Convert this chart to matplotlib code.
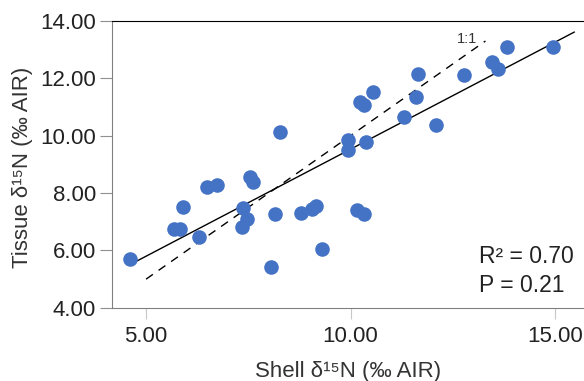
import matplotlib
matplotlib.use("Agg")
import matplotlib.pyplot as plt
import numpy as np

plt.rcParams['font.family'] = ['Liberation Sans', 'DejaVu Sans']

# Shell vs tissue d15N values
shell = [4.61, 5.69, 5.83, 5.91, 6.30, 6.50, 6.74, 7.55, 7.62, 8.28,
         7.38, 7.48, 7.35, 8.16, 8.06, 8.80, 9.05, 9.15, 9.31, 10.17,
         10.32, 9.93, 9.93, 10.39, 10.22, 10.32, 10.54, 11.32, 11.59, 11.64,
         12.08, 12.77, 13.46, 13.60, 13.82, 14.95]
tissue = [5.71, 6.75, 6.75, 7.52, 6.47, 8.22, 8.29, 8.56, 8.39, 10.13,
          7.48, 7.10, 6.83, 7.28, 5.43, 7.29, 7.45, 7.55, 6.06, 7.42,
          7.28, 9.85, 9.50, 9.78, 11.18, 11.07, 11.53, 10.66, 11.35, 12.15,
          10.38, 12.12, 12.57, 12.33, 13.09, 13.09]

# regression line (y = a*x + b) and 1:1 line extents
fit_slope = 0.746
fit_intercept = 2.07
fit_range = [4.78, 15.47]
one_to_one = [5.0, 13.3]

xticks = [5, 10, 15]
yticks = [4, 6, 8, 10, 12, 14]

fig = plt.figure(figsize=(5.84, 3.81), dpi=100)
ax = fig.add_axes([0.192, 0.192, 0.808, 0.753])

ax.scatter(shell, tissue, s=110, color='#4472C4', zorder=3, linewidths=0)

fx = np.array(fit_range)
ax.plot(fx, fit_slope * fx + fit_intercept, color='black', lw=1.0, zorder=2)
ax.plot(one_to_one, one_to_one, color='black', lw=1.0, ls=(0, (6, 5)), zorder=2)
ax.text(12.6, 13.37, '1:1', fontsize=10.5, color='#333333', ha='left', va='center')

ax.text(13.14, 5.78, 'R² = 0.70', fontsize=16.5, color='#222222', va='center')
ax.text(13.14, 4.77, 'P = 0.21', fontsize=16.5, color='#222222', va='center')

ax.set_xlim(4.17, 15.71)
ax.set_ylim(4, 14)
ax.set_xticks(xticks)
ax.set_yticks(yticks)
ax.set_xticklabels(['%.2f' % v for v in xticks], fontsize=16, color='#222222')
ax.set_yticklabels(['%.2f' % v for v in yticks], fontsize=16, color='#222222')
ax.tick_params(axis='x', direction='out', length=8, color='#c8c8c8', pad=5)
ax.tick_params(axis='y', direction='out', length=8.5, color='#909090', pad=3)

ax.spines['right'].set_visible(False)
ax.spines['top'].set_color('black')
ax.spines['left'].set_color('#808080')
ax.spines['bottom'].set_color('#808080')

ax.set_xlabel('Shell δ¹⁵N (‰ AIR)', fontsize=16, color='#333333')
ax.set_ylabel('Tissue δ¹⁵N (‰ AIR)', fontsize=16, color='#333333')
ax.xaxis.set_label_coords(0.5, -0.185)
ax.yaxis.set_label_coords(-0.167, 0.49)

fig.savefig('out.png', dpi=100)
